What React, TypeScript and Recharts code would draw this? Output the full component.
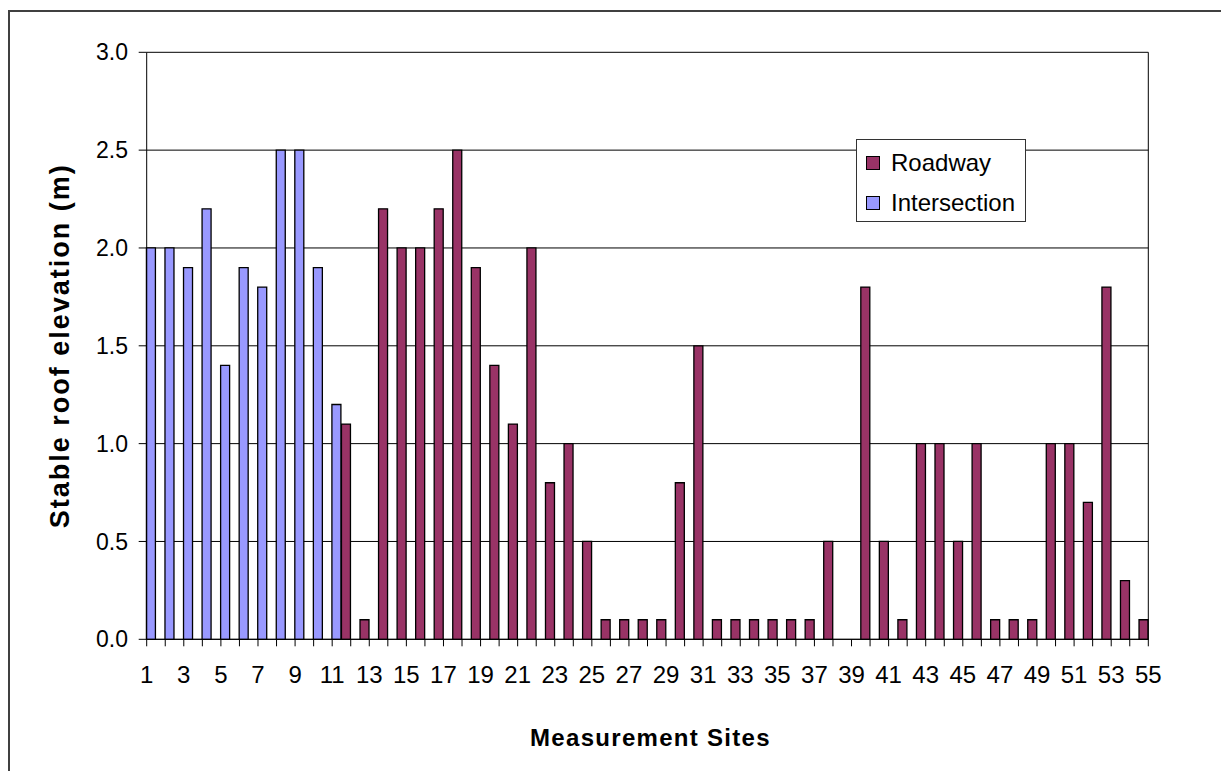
import { BarChart, Bar, XAxis, YAxis, CartesianGrid, ReferenceLine } from 'recharts';

const sites = [
  1, 2, 3, 4, 5, 6, 7, 8, 9, 10, 11, 12, 13, 14, 15, 16, 17, 18, 19, 20,
  21, 22, 23, 24, 25, 26, 27, 28, 29, 30, 31, 32, 33, 34, 35, 36, 37, 38, 39, 40,
  41, 42, 43, 44, 45, 46, 47, 48, 49, 50, 51, 52, 53, 54, 55,
];

// stable roof elevation (m) per site; null = no measurement of that type
const roadway = [
  null, null, null, null, null, null, null, null, null, null, null,
  1.1, 0.1, 2.2, 2.0, 2.0, 2.2, 2.5, 1.9, 1.4, 1.1, 2.0, 0.8, 1.0, 0.5,
  0.1, 0.1, 0.1, 0.1, 0.8, 1.5, 0.1, 0.1, 0.1, 0.1, 0.1, 0.1, 0.5, null,
  1.8, 0.5, 0.1, 1.0, 1.0, 0.5, 1.0, 0.1, 0.1, 0.1, 1.0, 1.0, 0.7, 1.8, 0.3, 0.1,
];
const intersection = [
  2.0, 2.0, 1.9, 2.2, 1.4, 1.9, 1.8, 2.5, 2.5, 1.9, 1.2,
  null, null, null, null, null, null, null, null, null, null, null, null, null, null,
  null, null, null, null, null, null, null, null, null, null, null, null, null, null,
  null, null, null, null, null, null, null, null, null, null, null, null, null, null, null, null,
];
const yTicks = [0, 0.5, 1.0, 1.5, 2.0, 2.5, 3.0];

const data = sites.map((site, i) => ({
  site,
  roadway: roadway[i],
  intersection: intersection[i],
}));

const FONT = '"Liberation Sans", Arial, Helvetica, sans-serif';
const ROAD = '#993366';
const INTER = '#9999FF';
const W = 1221;
const H = 753;
const HALF_BAND = 1001.6 / 54 / 2;

function SiteTick(props: any) {
  const { x, y, payload, index } = props;
  return (
    <g>
      <line x1={x} y1={y} x2={x} y2={y + 7} stroke="#000" strokeWidth={1} />
      {index % 2 === 0 && (
        <text x={x} y={y + 44} textAnchor="middle" fontSize={24} fill="#000" fontFamily={FONT}>
          {payload.value}
        </text>
      )}
    </g>
  );
}

function LegendBox() {
  const rows = [
    { name: 'Roadway', color: ROAD },
    { name: 'Intersection', color: INTER },
  ];
  return (
    <div
      style={{
        position: 'absolute', left: 848, top: 131, width: 170, height: 83,
        boxSizing: 'border-box', border: '1px solid #333', background: '#fff',
        fontFamily: FONT, fontSize: 24, color: '#000', paddingTop: 3,
      }}
    >
      {rows.map((r) => (
        <div key={r.name} style={{ display: 'flex', alignItems: 'center', height: 40 }}>
          <span
            style={{
              display: 'inline-block', width: 12, height: 12, marginLeft: 9, marginRight: 11,
              background: r.color, border: '1.5px solid #000',
            }}
          />
          <span>{r.name}</span>
        </div>
      ))}
    </div>
  );
}

export default function App() {
  return (
    <div style={{ position: 'relative', width: W, height: H + 10, overflow: 'hidden' }}>
      <style>{'body { overflow: hidden; }'}</style>
      <div
        style={{
          position: 'absolute', left: 0, top: 2, width: W + 20, height: H + 40,
          borderTop: '2px solid #404040', borderLeft: '2px solid #404040', pointerEvents: 'none',
        }}
      />
      <BarChart
        width={W}
        height={H}
        data={data}
        margin={{ top: 44.3, right: 80.7, bottom: 71.7, left: 78.7 }}
        barCategoryGap={0}
        barGap={0}
      >
        <CartesianGrid horizontal vertical={false} stroke="#000" strokeWidth={1} />
        <XAxis
          dataKey="site"
          type="category"
          interval={0}
          height={50}
          padding={{ left: -HALF_BAND, right: -HALF_BAND }}
          axisLine={{ stroke: '#000' }}
          tickLine={false}
          tickSize={0}
          tickMargin={0}
          tick={<SiteTick />}
          label={({ viewBox }: any) => (
            <text
              x={viewBox.x + viewBox.width / 2 + 3}
              y={viewBox.y + 107}
              textAnchor="middle"
              fontSize={24}
              fontWeight="bold"
              letterSpacing={1.3}
              fontFamily={FONT}
              fill="#000"
            >
              Measurement Sites
            </text>
          )}
        />
        <YAxis
          domain={[0, 3]}
          ticks={yTicks}
          interval={0}
          width={60}
          axisLine={{ stroke: '#000' }}
          tickLine={{ stroke: '#000' }}
          tickSize={8}
          tickMargin={10.7}
          tickFormatter={(v: number) => v.toFixed(1)}
          tick={{ fontSize: 23, fill: '#000', fontFamily: FONT }}
          label={({ viewBox }: any) => (
            <text
              x={52}
              y={viewBox.y + viewBox.height / 2}
              transform={`rotate(-90, 52, ${viewBox.y + viewBox.height / 2})`}
              textAnchor="middle"
              dominantBaseline="central"
              fontSize={27}
              fontWeight="bold"
              letterSpacing={2}
              fontFamily={FONT}
              fill="#000"
            >
              Stable roof elevation (m)
            </text>
          )}
        />
        <ReferenceLine x={55} stroke="#000" strokeWidth={1} />
        <Bar dataKey="roadway" name="Roadway" fill={ROAD} stroke="#000" strokeWidth={1.3} isAnimationActive={false} />
        <Bar dataKey="intersection" name="Intersection" fill={INTER} stroke="#000" strokeWidth={1.3} isAnimationActive={false} />
      </BarChart>
      <LegendBox />
    </div>
  );
}
